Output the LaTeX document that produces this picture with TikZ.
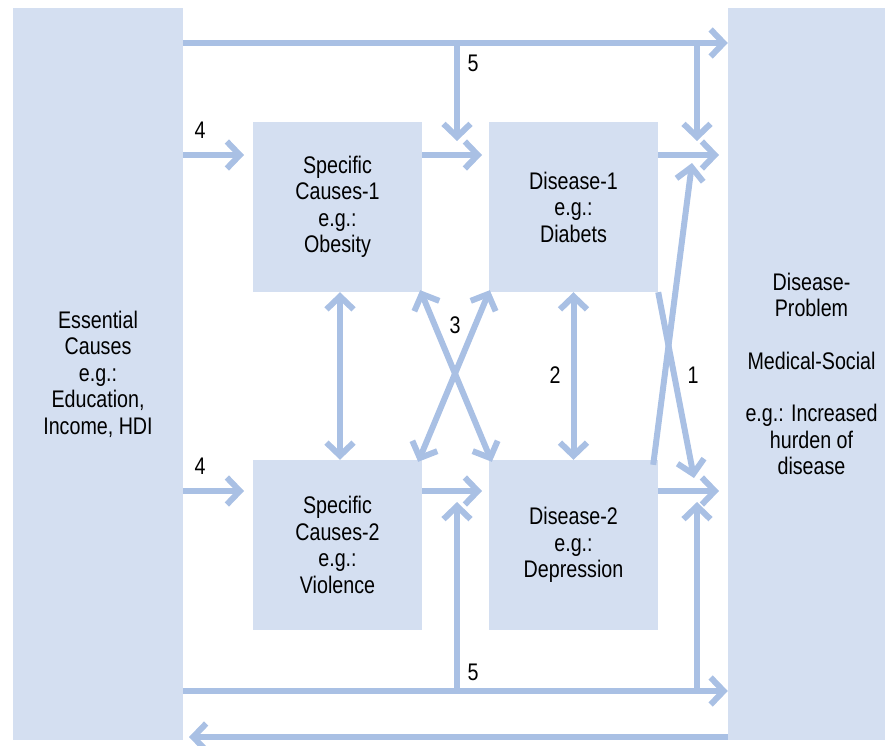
\documentclass[tikz,border=0pt]{standalone}
\usepackage{fontspec}
\setmainfont{Liberation Sans}[FakeStretch=0.82]
\usetikzlibrary{arrows.meta}
\definecolor{arrowblue}{HTML}{A9C0E4}
\definecolor{boxblue}{HTML}{D4DFF1}
\begin{document}
\begin{tikzpicture}[x=1pt,y=-1pt,
  every node/.style={font=\fontsize{24}{26.5}\selectfont},
  bigbox/.style={rectangle,fill=boxblue,inner sep=0pt,minimum width=170pt,minimum height=732pt,align=center},
  smallbox/.style={rectangle,fill=boxblue,inner sep=0pt,minimum width=169pt,minimum height=170pt,align=center},
  arr/.style={draw=arrowblue,line width=6pt,-{Straight Barb[length=13pt,width=27pt]}},
  darr/.style={draw=arrowblue,line width=6pt,{Straight Barb[length=13pt,width=27pt]}-{Straight Barb[length=13pt,width=27pt]}},
  num/.style={inner sep=0pt}]
\useasboundingbox (0,0) rectangle (885,745);
% boxes
\node[bigbox] (ess) at (98,374) {Essential\\Causes\\e.g.:\\Education,\\Income, HDI};
\node[bigbox,minimum width=157pt] (prob) at (806.5,374) {\hspace*{10pt}Disease-\\\hspace*{10pt}Problem\\[26pt]\hspace*{10pt}Medical-Social\\[26pt]\hspace*{10pt}e.g.: Increased\\\hspace*{10pt}hurden of\\\hspace*{10pt}disease};
\node[smallbox] (sc1) at (337.5,207) {Specific\\Causes-1\\e.g.:\\Obesity};
\node[smallbox] (d1) at (573.5,207) {Disease-1\\e.g.:\\Diabets};
\node[smallbox] (sc2) at (337.5,545) {Specific\\Causes-2\\e.g.:\\Violence};
\node[smallbox] (d2) at (573.5,545) {Disease-2\\e.g.:\\Depression};
% coordinates
\coordinate (topL) at (ess.east |- 0,43);
\coordinate (topR) at (prob.west |- 0,43);
\coordinate (t5a) at (457,43);
\coordinate (t5b) at (697,43);
\coordinate (botL) at (ess.east |- 0,691);
\coordinate (botR) at (prob.west |- 0,691);
\coordinate (b5a) at (457,691);
\coordinate (b5b) at (697,691);
% top line
\draw[arr] (topL) -- (topR);
\draw[arr] (t5a) -- (457,141);
\draw[arr] (t5b) -- (697,141);
% row 1
\draw[arr] (ess.east |- 0,155) -- (244,155);
\draw[arr] (sc1.east |- 0,155) -- (482,155);
\draw[arr] (d1.east |- 0,155) -- (719,155);
% row 2
\draw[arr] (ess.east |- 0,491) -- (244,491);
\draw[arr] (sc2.east |- 0,491) -- (482,491);
\draw[arr] (d2.east |- 0,491) -- (719,491);
% bottom line
\draw[arr] (botL) -- (botR);
\draw[arr] (b5a) -- (457,502);
\draw[arr] (b5b) -- (697,502);
\draw[arr] (prob.south west |- 0,737) -- (189,737);
% verticals
\draw[darr] (sc1.south) ++(2.5,0) -- ([xshift=2.5pt]sc2.north);
\draw[darr] (d1.south) -- (d2.north);
% cross 3
\draw[darr] ([xshift=-2pt,yshift=2pt]sc1.south east) -- ([xshift=3pt,yshift=-2pt]d2.north west);
\draw[darr] ([xshift=1pt,yshift=2pt]d1.south west) -- ([xshift=-4pt,yshift=-2pt]sc2.north east);
% cross 1
\draw[arr] (d1.south east) -- (694,478);
\draw[arr] ([xshift=-5pt,yshift=-5pt]d2.north east) -- (692,163);
% labels
\node[num] (l5a) at (473,63) {5};
\node[num] (l5b) at (473,672) {5};
\node[num] (l4a) at (200,130) {4};
\node[num] (l4b) at (200,466) {4};
\node[num] (l3) at (455,325) {3};
\node[num] (l2) at (555,375) {2};
\node[num] (l1) at (693,375) {1};
\end{tikzpicture}
\end{document}
